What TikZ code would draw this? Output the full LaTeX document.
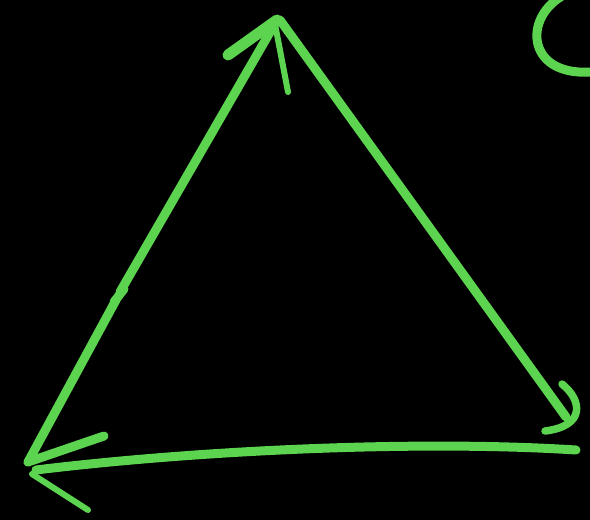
\documentclass[tikz,border=0pt]{standalone}
\begin{document}
\begin{tikzpicture}[x=1pt,y=-1pt,line cap=round,line join=round]
\definecolor{chalk}{RGB}{92,212,80}
\tikzset{stroke/.style={draw=chalk,line width=9pt},thin stroke/.style={draw=chalk,line width=6pt}}
\fill[black] (0,0) rectangle (590,520);
\useasboundingbox (0,0) rectangle (590,520);
% left edge (with jog)
\draw[stroke] (28,462) -- (116,300);
\draw[stroke] (120,292) -- (277,20);
\draw[stroke] (114,302) -- (124,289);
% top arrowhead
\draw[stroke,line width=11pt] (277,20) -- (228,55);
\draw[thin stroke] (275,24) -- (288,92);
% right edge
\draw[stroke] (280,20) -- (566,417);
% right arrowhead hook
\draw[stroke,line width=7.5pt] (562,384) .. controls (582,400) and (586,426) .. (545,431);
% bottom edge
\draw[stroke] (576,450) .. controls (420,440) and (200,450) .. (36,470);
% bottom-left arrowhead
\draw[stroke] (28,462) -- (104,436);
\draw[thin stroke] (32,474) -- (88,510);
% partial C
\draw[stroke] (570,-8) .. controls (522,12) and (524,76) .. (590,72);
\end{tikzpicture}
\end{document}
